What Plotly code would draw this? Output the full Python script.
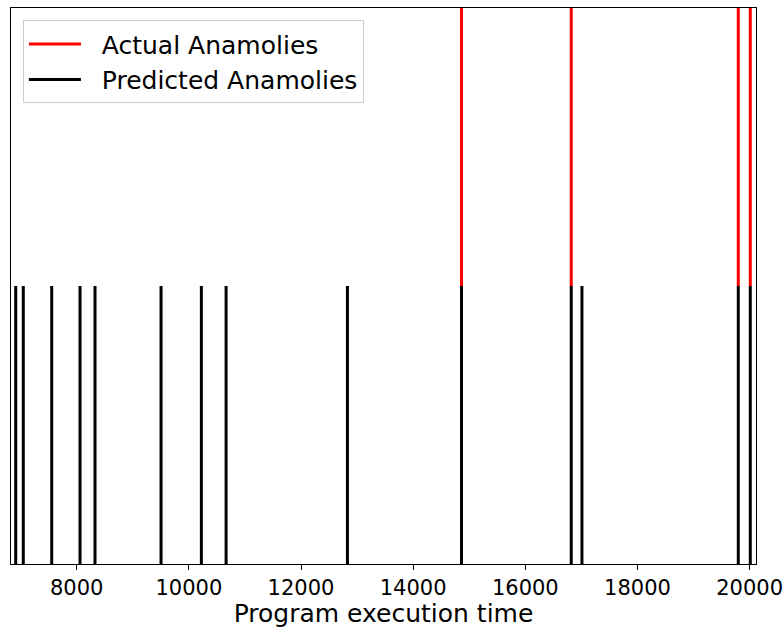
import plotly.graph_objects as go

# Data
actual_anomalies = [14862, 16819, 19798, 20012]
predicted_anomalies = [6912, 7047, 7554, 8059, 8326, 9504, 10223, 10664,
                       12828, 14862, 16819, 17010, 19798, 20012]
x_tick_vals = [8000, 10000, 12000, 14000, 16000, 18000, 20000]
x_tick_text = ["8000", "10000", "12000", "14000", "16000", "18000", "20000"]


def segs(xs, y0, y1):
    X, Y = [], []
    for v in xs:
        X += [v, v, None]
        Y += [y0, y1, None]
    return X, Y


ax, ay = segs(actual_anomalies, 0.5, 1.0)
px_, py_ = segs(predicted_anomalies, 0.0, 0.5)

fig = go.Figure()
fig.add_trace(go.Scatter(x=ax, y=ay, mode="lines", name="\u00a0\u00a0Actual Anamolies",
                         line=dict(color="red", width=3)))
fig.add_trace(go.Scatter(x=px_, y=py_, mode="lines", name="\u00a0\u00a0Predicted Anamolies",
                         line=dict(color="black", width=3)))

fig.update_layout(
    width=783, height=628,
    margin=dict(l=11, r=27, t=8, b=64),
    paper_bgcolor="white", plot_bgcolor="white",
    font=dict(family="DejaVu Sans", color="black"),
    showlegend=True,
    legend=dict(x=0.016, y=0.978, xanchor="left", yanchor="top",
                bgcolor="rgba(255,255,255,0.8)", bordercolor="#cccccc", borderwidth=1,
                font=dict(size=25), tracegroupgap=0, itemwidth=52),
)
fig.update_xaxes(range=[6828, 20114], tickvals=x_tick_vals, ticktext=x_tick_text,
                 showgrid=False, zeroline=False, showline=True, linecolor="black",
                 linewidth=1, mirror=True, ticks="outside", ticklen=5, tickcolor="black",
                 tickfont=dict(size=21), automargin=False, ticklabeloverflow="allow",
                 title=dict(text="Program execution time", font=dict(size=25), standoff=6))
fig.update_yaxes(range=[0, 1], showticklabels=False, showgrid=False, zeroline=False,
                 showline=True, linecolor="black", linewidth=1, mirror=True, ticks="",
                 automargin=False)

fig.write_html("out.html")
